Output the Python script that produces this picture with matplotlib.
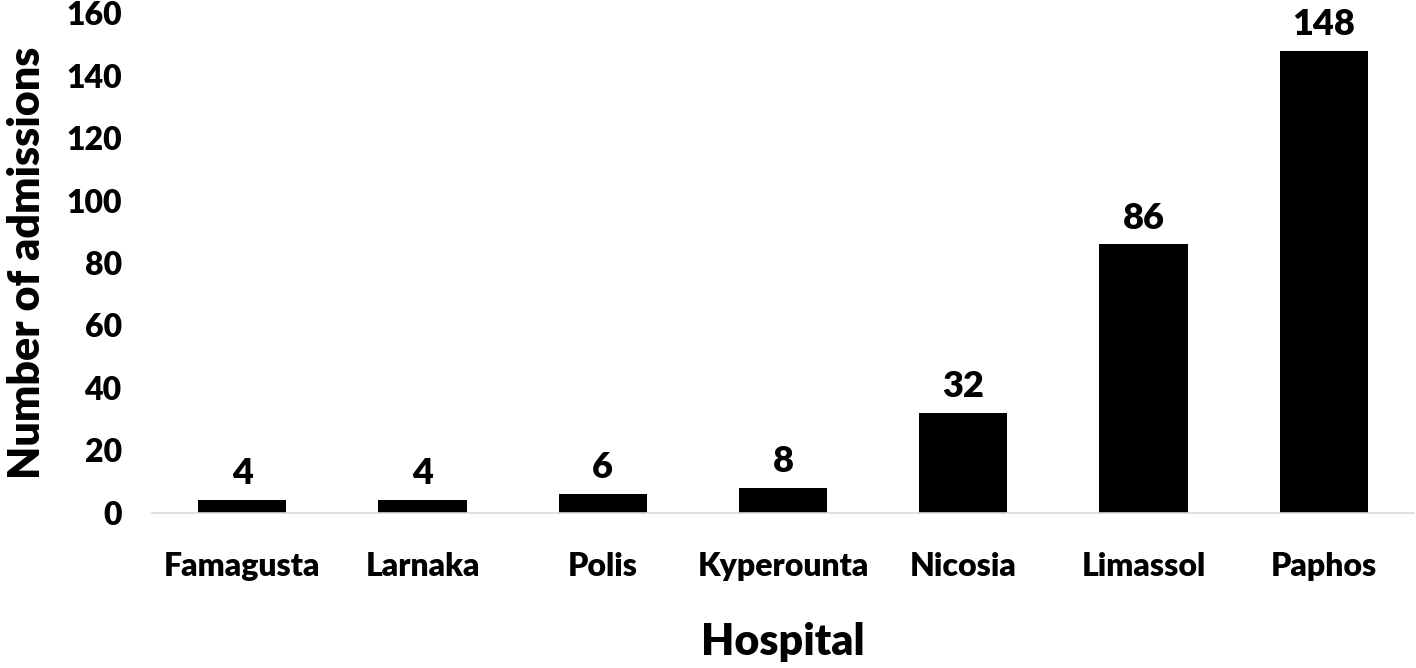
import matplotlib
matplotlib.use('Agg')
import matplotlib.pyplot as plt

# data
hospitals = ['Famagusta', 'Larnaka', 'Polis', 'Kyperounta', 'Nicosia', 'Limassol', 'Paphos']
admissions = [4, 4, 6, 8, 32, 86, 148]
y_ticks = [0, 20, 40, 60, 80, 100, 120, 140, 160]

plt.rcParams['font.family'] = ['Lato', 'DejaVu Sans']
plt.rcParams['font.weight'] = 'heavy'

fig = plt.figure(figsize=(14.16, 6.68), dpi=100)
ax = fig.add_axes([0.1075, 0.2325, 0.891, 0.7475])

x = range(len(hospitals))
bars = ax.bar(x, admissions, width=0.49, color='black')

# value labels on top of bars
for xi, v in zip(x, admissions):
    ax.annotate(str(v), (xi, v), xytext=(0, 7), textcoords='offset points',
                ha='center', va='bottom', fontsize=26, fontweight='heavy')

ax.set_xlim(-0.5, len(hospitals) - 0.5)
ax.set_ylim(0, 160)
ax.set_yticks(y_ticks)
ax.set_xticks(list(x))
ax.set_xticklabels(hospitals)
ax.tick_params(axis='both', length=0, labelsize=23)
ax.tick_params(axis='x', pad=28)
ax.tick_params(axis='y', pad=22)

for lbl in ax.get_xticklabels() + ax.get_yticklabels():
    lbl.set_fontweight('heavy')

for side in ['top', 'right', 'left']:
    ax.spines[side].set_visible(False)
ax.spines['bottom'].set_color('#d9d9d9')
ax.spines['bottom'].set_linewidth(1.2)

ax.set_xlabel('Hospital', fontsize=31, fontweight='heavy', labelpad=30)
ax.set_ylabel('Number of admissions', fontsize=31, fontweight='heavy', labelpad=14)

fig.savefig('out.png', dpi=100)
